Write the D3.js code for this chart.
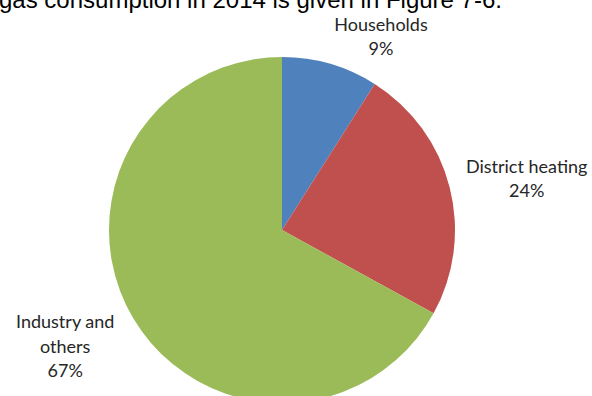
<!DOCTYPE html>
<html>
<head>
<meta charset="utf-8">
<script src="https://cdn.jsdelivr.net/npm/d3@7"></script>
<style>
  html, body { margin: 0; padding: 0; background: #fff; overflow: hidden; }
  svg { display: block; }
</style>
</head>
<body>
<svg id="chart" width="592" height="396"></svg>
<script>
// Gas consumption by sector, 2014 (share of total, %)
const categories = ["Households", "District heating", "Industry and others"];
const shares = [9, 24, 67];
const colors = ["#4F81BD", "#C0504D", "#9BBB59"];

// Label lines for each slice (name may wrap), followed by the share
const labelLines = [["Households"], ["District heating"], ["Industry and", "others"]];

const W = 592, H = 396;
const cx = 282, cy = 230, radius = 173;

const svg = d3.select("#chart");

// Running sentence of the surrounding text, partly cut at the top edge
svg.append("text")
  .attr("x", -1)
  .attr("y", 7.5)
  .attr("font-family", "Liberation Sans, Arial, sans-serif")
  .attr("font-size", 24)
  .attr("fill", "#000")
  .text("gas consumption in 2014 is given in Figure 7-6.");

const pie = d3.pie().sort(null).value(d => d).startAngle(0).endAngle(2 * Math.PI);
const arcs = pie(shares);
const arc = d3.arc().innerRadius(0).outerRadius(radius);

const g = svg.append("g").attr("transform", `translate(${cx},${cy})`);

g.selectAll("path.slice")
  .data(arcs)
  .join("path")
  .attr("class", "slice")
  .attr("d", arc)
  .attr("fill", (d, i) => colors[i]);

// Labels sit outside the pie along each slice's mid-angle, pushed out per slice
const labelArc = d3.arc().innerRadius(radius * 1.12).outerRadius(radius * 1.12);
const nudges = [[45, -7], [57, -3], [-50, 18]];
const lineH = 24.5;

const labels = svg.append("g")
  .attr("font-family", "Lato, 'Open Sans', sans-serif")
  .attr("font-size", 18)
  .attr("fill", "#262626")
  .attr("text-anchor", "middle");

arcs.forEach((a, i) => {
  const c = labelArc.centroid(a);
  const lx = cx + c[0] + nudges[i][0];
  const ly = cy + c[1] + nudges[i][1];
  const lines = labelLines[i].concat([shares[i] + "%"]);
  const top = ly - (lines.length - 1) * lineH / 2;
  const t = labels.append("text").attr("x", lx).attr("y", top);
  lines.forEach((s, k) => {
    t.append("tspan")
      .attr("x", lx)
      .attr("y", top + k * lineH)
      .attr("dy", "0.35em")
      .text(s);
  });
});
</script>
</body>
</html>
